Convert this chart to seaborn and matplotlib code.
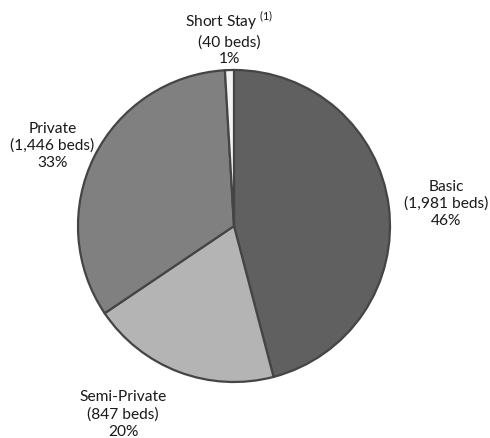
import matplotlib
matplotlib.use("Agg")
import matplotlib.pyplot as plt
import seaborn as sns
import numpy as np

# Bed distribution by room type
categories = ["Basic", "Semi-Private", "Private", "Short Stay"]
beds = [1981, 847, 1446, 40]
pct_labels = ["46%", "20%", "33%", "1%"]
footnotes = ["", "", "", "(1)"]

colors = ["#606060", "#b4b4b4", "#808080", "#f4f4f4"]

sns.set_theme(style="white")
plt.rcParams["font.family"] = ["Lato", "DejaVu Sans"]
plt.rcParams["mathtext.fontset"] = "custom"
plt.rcParams["mathtext.rm"] = "Lato"

W, H, DPI = 490, 439, 100
fig = plt.figure(figsize=(W / DPI, H / DPI), dpi=DPI)
ax = fig.add_axes([0, 0, 1, 1])

# pie centre and radius in pixels; axes limits set so 1 data unit = radius
cx, cy, r = 234.0, 227.0, 156.0

wedges, _ = ax.pie(
    beds,
    colors=colors,
    startangle=90,
    counterclock=False,
    radius=1.0,
    center=(0, 0),
    wedgeprops=dict(edgecolor="#454545", linewidth=1.6),
    frame=True,
)
ax.set_aspect("equal")
ax.axis("off")
ax.set_xlim(-cx / r, (W - cx) / r)
ax.set_ylim(-(H - cy) / r, cy / r)

# label placement: (distance from centre in radii, angle in degrees)
label_polar = [(1.37, 6.2), (1.395, -120.6), (1.275, 155.9), (1.212, 91.4)]

for name, n, p, fn, (d, ang) in zip(categories, beds, pct_labels, footnotes, label_polar):
    a = np.deg2rad(ang)
    first = name if not fn else name + r" $^{\mathrm{" + fn + "}}$"
    txt = f"{first}\n({n:,} beds)\n{p}"
    ax.text(d * np.cos(a), d * np.sin(a), txt, ha="center", va="center",
            fontsize=11.2, color="#1a1a1a", linespacing=1.27)

fig.savefig("out.png", dpi=DPI, facecolor="white")
